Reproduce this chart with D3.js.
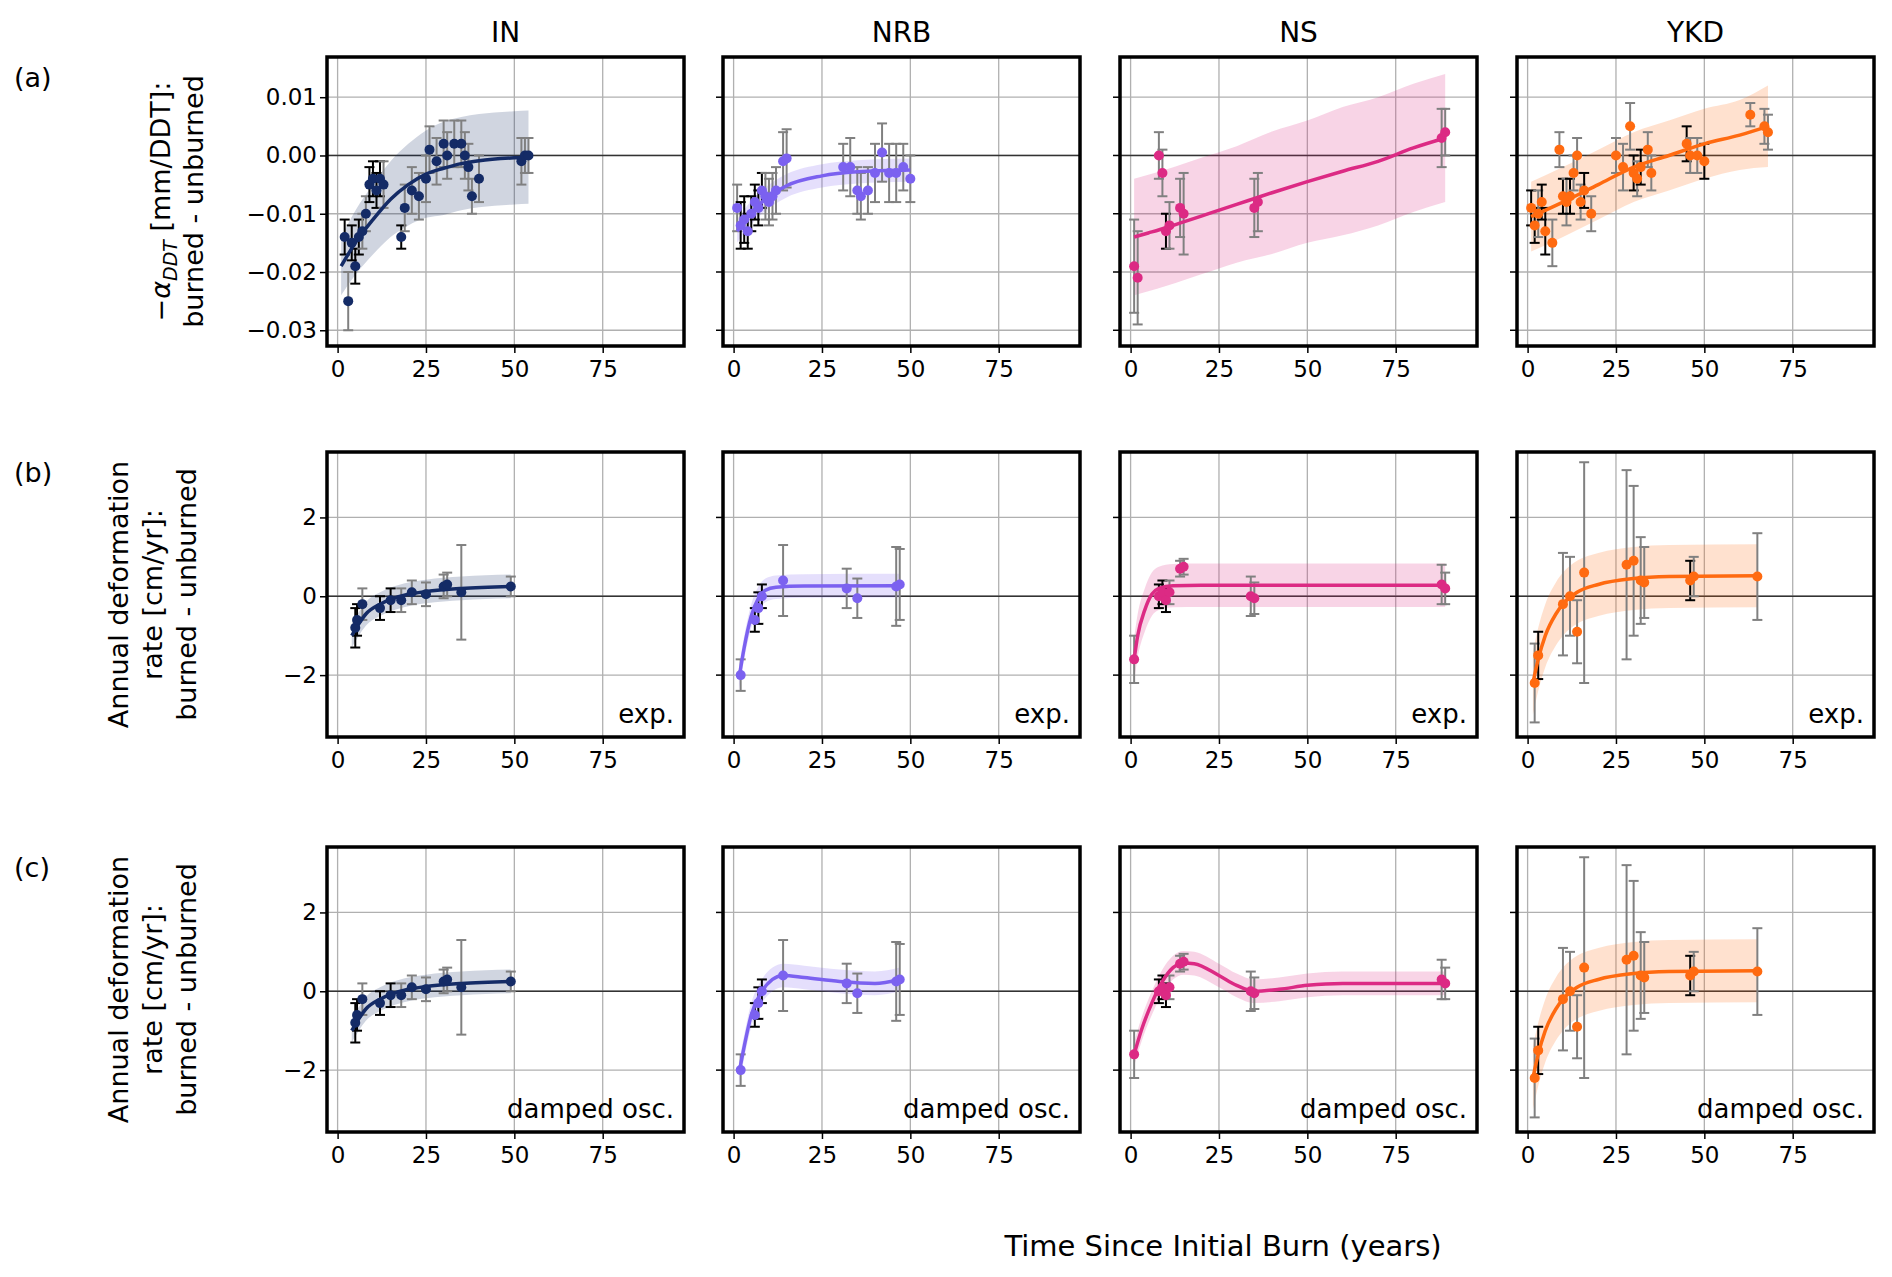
<!DOCTYPE html>
<html><head><meta charset="utf-8">
<script src="https://cdn.jsdelivr.net/npm/d3@7"></script>
<style>body{margin:0;background:#fff}text{font-family:"DejaVu Sans",sans-serif}</style>
</head><body><svg id="c" width="1892" height="1277"></svg>
<script>
const regions=["IN","NRB","NS","YKD"];
const colors=["#142b66","#7b61f0","#dc2a84","#ff6a10"];
const rowLabels=["(a)","(b)","(c)"];
const fitLabels=["","exp.","damped osc."];
const xTicks=[0,25,50,75];
const yTicksA=[0.01,0,-0.01,-0.02,-0.03];
const yTicksB=[2,0,-2];
// points: [t, y, err, black?]
const ptsA=[
[[2,-0.014,0.003,1],[3,-0.025,0.005,0],[4,-0.015,0.003,1],[5,-0.019,0.003,1],[6,-0.014,0.003,1],[7,-0.013,0.003,0],[8,-0.010,0.003,0],[9,-0.005,0.003,1],[10,-0.004,0.003,1],[11,-0.006,0.003,1],[12,-0.004,0.003,1],[13,-0.005,0.004,0],[18,-0.014,0.002,1],[19,-0.009,0.004,0],[21,-0.006,0.004,0],[23,-0.007,0.004,0],[25,-0.004,0.004,0],[26,0.001,0.004,0],[28,-0.001,0.004,0],[30,0.002,0.004,0],[31,0.0,0.004,0],[33,0.002,0.004,0],[35,0.002,0.004,0],[36,0.0,0.004,0],[37,-0.002,0.004,0],[38,-0.007,0.003,0],[40,-0.004,0.004,0],[52,-0.001,0.004,0],[53,0.0,0.003,0],[54,0.0,0.003,0]],
[[1,-0.009,0.004,0],[2,-0.012,0.004,1],[3,-0.011,0.004,1],[4,-0.013,0.003,1],[5,-0.010,0.003,1],[6,-0.008,0.003,1],[7,-0.009,0.003,1],[8,-0.006,0.003,1],[9,-0.007,0.004,0],[10,-0.008,0.004,0],[11,-0.007,0.004,0],[12,-0.006,0.004,0],[14,-0.001,0.005,0],[15,-0.0005,0.005,0],[31,-0.002,0.004,0],[33,-0.002,0.005,0],[35,-0.006,0.004,0],[36,-0.007,0.004,0],[38,-0.006,0.004,0],[40,-0.003,0.005,0],[42,0.0005,0.005,0],[44,-0.003,0.005,0],[46,-0.003,0.005,0],[48,-0.002,0.004,0],[50,-0.004,0.004,0]],
[[1,-0.019,0.008,0],[2,-0.021,0.008,0],[8,0.0,0.004,0],[9,-0.003,0.004,0],[10,-0.013,0.003,1],[11,-0.012,0.004,0],[14,-0.009,0.005,0],[15,-0.010,0.007,0],[35,-0.009,0.005,0],[36,-0.008,0.005,0],[88,0.003,0.005,0],[89,0.004,0.004,0]],
[[1,-0.009,0.003,1],[2,-0.012,0.003,1],[3,-0.010,0.004,0],[4,-0.008,0.003,1],[5,-0.013,0.004,1],[7,-0.015,0.004,0],[9,0.001,0.003,0],[10,-0.007,0.003,1],[11,-0.008,0.004,0],[12,-0.007,0.003,1],[13,-0.003,0.003,0],[14,0.0,0.003,0],[15,-0.008,0.003,0],[16,-0.006,0.003,1],[18,-0.010,0.003,0],[25,0.0,0.003,0],[27,-0.002,0.004,0],[29,0.005,0.004,0],[30,-0.003,0.003,1],[31,-0.004,0.003,0],[32,-0.002,0.003,1],[34,0.001,0.003,0],[35,-0.003,0.003,0],[45,0.002,0.003,1],[46,0.0,0.003,0],[48,0.0,0.003,0],[50,-0.001,0.003,1],[63,0.007,0.002,0],[67,0.005,0.003,0],[68,0.004,0.003,0]]
];
const fitA=[
[[1,-0.019],[5,-0.015],[10,-0.011],[15,-0.0075],[20,-0.005],[25,-0.0032],[30,-0.0022],[35,-0.0014],[40,-0.0009],[50,-0.0004],[54,-0.0003]],
[[1,-0.013],[4,-0.0105],[8,-0.008],[15,-0.0052],[25,-0.0035],[35,-0.0028],[50,-0.0025]],
[[1,-0.014],[5,-0.0133],[10,-0.0124],[15,-0.0114],[20,-0.0104],[30,-0.0084],[40,-0.0064],[50,-0.0045],[60,-0.0027],[70,-0.001],[80,0.0013],[89,0.003]],
[[1,-0.0105],[10,-0.008],[20,-0.005],[30,-0.002],[40,0.0],[50,0.002],[60,0.0035],[68,0.005]]
];
const bandA=[[0.005,0.0055,0.006,0.0065,0.007,0.0075,0.008,0.008,0.008,0.008,0.008],[0.002,0.002,0.002,0.002,0.002,0.002,0.002],[0.010,0.010,0.010,0.010,0.010,0.010,0.0105,0.0105,0.011,0.011,0.011,0.011],[0.006,0.006,0.006,0.006,0.006,0.006,0.006,0.007]];
const ptsB=[
[[5,-0.8,0.5,1],[5.5,-0.6,0.4,1],[7,-0.2,0.4,0],[12,-0.3,0.3,1],[15,-0.1,0.3,1],[18,-0.1,0.3,0],[21,0.1,0.3,0],[25,0.05,0.3,0],[30,0.25,0.3,0],[31,0.3,0.3,0],[35,0.1,1.2,0],[49,0.25,0.25,0]],
[[2,-2.0,0.4,0],[6,-0.6,0.3,1],[7,-0.3,0.4,1],[8,0.0,0.3,1],[14,0.4,0.9,0],[32,0.2,0.5,0],[35,-0.05,0.5,0],[46,0.25,1.0,0],[47,0.3,0.9,0]],
[[1,-1.6,0.6,0],[8,0.0,0.3,1],[9,0.1,0.3,1],[10,-0.1,0.3,1],[11,0.1,0.3,0],[14,0.7,0.2,0],[15,0.75,0.2,0],[34,0.0,0.5,0],[35,-0.05,0.4,0],[88,0.3,0.5,0],[89,0.2,0.4,0]],
[[2,-2.2,1.0,0],[3,-1.5,0.6,1],[10,-0.2,1.3,0],[12,0.0,1.0,0],[14,-0.9,0.8,0],[16,0.6,2.8,0],[28,0.8,2.4,0],[30,0.9,1.9,0],[32,0.4,1.1,0],[33,0.35,0.9,0],[46,0.4,0.5,1],[47,0.5,0.5,0],[65,0.5,1.1,0]]
];
const fitB=[
[[4,-1.0],[6,-0.7],[8,-0.45],[12,-0.2],[15,-0.08],[20,0.05],[25,0.12],[35,0.2],[49,0.25]],
[[1.5,-2.1],[3,-1.3],[5,-0.5],[7,-0.05],[9,0.15],[12,0.23],[20,0.26],[47,0.27]],
[[1,-1.6],[2,-1.0],[4,-0.35],[6,0.05],[8,0.2],[12,0.27],[20,0.28],[89,0.28]],
[[1.5,-2.2],[3,-1.6],[5,-1.0],[8,-0.45],[10,-0.2],[14,0.1],[20,0.3],[30,0.45],[40,0.5],[65,0.52]]
];
const bandB=[0.3,0.3,0.55,0.8];
const fitC=[
fitB[0],
[[1.5,-2.1],[3,-1.4],[5,-0.6],[8,0.0],[11,0.3],[14,0.4],[20,0.35],[30,0.25],[40,0.2],[47,0.3]],
[[1,-1.6],[3,-1.0],[6,-0.3],[9,0.25],[12,0.6],[15,0.72],[18,0.7],[25,0.4],[30,0.15],[35,0.0],[42,0.05],[50,0.15],[60,0.2],[89,0.2]],
fitB[3]
];
const bandC=[0.3,0.3,0.3,0.8];

const svg=d3.select("#c");
const colX=[327,723,1120,1517], W=357;
const rowY=[57,452,847], H=[289,285,285];
const x=d3.scaleLinear().domain([-3,98]);
svg.append("text").attr("x",1223).attr("y",1256).attr("text-anchor","middle").attr("font-size",29).text("Time Since Initial Burn (years)");
const ylabs=[["\u2212\u03b1","burned - unburned"],["Annual deformation","rate [cm/yr]:","burned - unburned"],["Annual deformation","rate [cm/yr]:","burned - unburned"]];
for(let r=0;r<3;r++){
  svg.append("text").attr("x",14).attr("y",rowY[r]+30).attr("font-size",27).text(rowLabels[r]);
  const cy=rowY[r]+H[r]/2;
  const g=svg.append("g").attr("transform",`translate(0,${cy}) rotate(-90)`).attr("font-size",27).attr("text-anchor","middle");
  if(r==0){
    const t=g.append("text").attr("y",170);
    t.append("tspan").text("\u2212");t.append("tspan").attr("font-style","italic").text("\u03b1");
    t.append("tspan").attr("font-size",19).attr("font-style","italic").attr("dy",7).text("DDT");
    t.append("tspan").attr("dy",-7).text(" [mm/DDT]:");
    g.append("text").attr("y",203).text("burned - unburned");
  } else {
    ylabs[r].forEach((s,i)=>g.append("text").attr("y",128+i*34).text(s));
  }
  for(let c=0;c<4;c++){
    const X=colX[c], Y=rowY[r], h=H[r];
    const xs=x.copy().range([X,X+W]);
    const ys=d3.scaleLinear().domain(r==0?[-0.0327,0.0169]:[-3.57,3.66]).range([Y+h,Y]);
    const yt=r==0?yTicksA:yTicksB;
    const p=svg.append("g");
    p.append("defs").append("clipPath").attr("id",`cl${r}${c}`).append("rect").attr("x",X).attr("y",Y).attr("width",W).attr("height",h);
    xTicks.forEach(v=>p.append("line").attr("x1",xs(v)).attr("x2",xs(v)).attr("y1",Y).attr("y2",Y+h).attr("stroke","#b0b0b0").attr("stroke-width",1.3));
    yt.forEach(v=>p.append("line").attr("x1",X).attr("x2",X+W).attr("y1",ys(v)).attr("y2",ys(v)).attr("stroke","#b0b0b0").attr("stroke-width",1.3));
    p.append("line").attr("x1",X).attr("x2",X+W).attr("y1",ys(0)).attr("y2",ys(0)).attr("stroke","#333").attr("stroke-width",1.6);
    const col=colors[c];
    const fit=r==0?fitA[c]:(r==1?fitB[c]:fitC[c]);
    const bw=r==0?bandA[c]:null;
    const hw=i=>r==0?bw[i]:(r==1?bandB[c]:bandC[c]);
    const cg=p.append("g").attr("clip-path",`url(#cl${r}${c})`);
    cg.append("path").datum(fit.map((d,i)=>[d[0],d[1]-hw(i),d[1]+hw(i)]))
      .attr("d",d3.area().x(d=>xs(d[0])).y0(d=>ys(d[1])).y1(d=>ys(d[2])).curve(d3.curveMonotoneX))
      .attr("fill",col).attr("opacity",0.2);
    const pts=r==0?ptsA[c]:ptsB[c];
    pts.forEach(d=>{
      const ec=d[3]?"#000":"#808080";
      cg.append("line").attr("x1",xs(d[0])).attr("x2",xs(d[0])).attr("y1",ys(d[1]-d[2])).attr("y2",ys(d[1]+d[2])).attr("stroke",ec).attr("stroke-width",2);
      [d[1]-d[2],d[1]+d[2]].forEach(v=>cg.append("line").attr("x1",xs(d[0])-5).attr("x2",xs(d[0])+5).attr("y1",ys(v)).attr("y2",ys(v)).attr("stroke",ec).attr("stroke-width",2));
    });
    cg.append("path").datum(fit).attr("d",d3.line().x(d=>xs(d[0])).y(d=>ys(d[1])).curve(d3.curveMonotoneX)).attr("fill","none").attr("stroke",col).attr("stroke-width",3.5);
    pts.forEach(d=>cg.append("circle").attr("cx",xs(d[0])).attr("cy",ys(d[1])).attr("r",5).attr("fill",col));
    p.append("rect").attr("x",X).attr("y",Y).attr("width",W).attr("height",h).attr("fill","none").attr("stroke","#000").attr("stroke-width",3.5);
    const ax=p.append("g").attr("transform",`translate(0,${Y+h})`).call(d3.axisBottom(xs).tickValues(xTicks).tickSize(7).tickSizeOuter(0));
    ax.select(".domain").remove();ax.selectAll("text").attr("font-size",23).attr("dy","0.9em").attr("font-family","DejaVu Sans");
    ax.selectAll("line").attr("stroke-width",1.5);
    if(c==0){
      const ay=p.append("g").attr("transform",`translate(${X},0)`).call(d3.axisLeft(ys).tickValues(yt).tickSize(7).tickFormat(r==0?d3.format(".2f"):d3.format("d")));
      ay.select(".domain").remove();ay.selectAll("text").attr("font-size",23).attr("font-family","DejaVu Sans").text(function(){return this.textContent.replace("-","\u2212");});
      ay.selectAll("line").attr("stroke-width",1.5);
    } else {
      yt.forEach(v=>p.append("line").attr("x1",X-7).attr("x2",X).attr("y1",ys(v)).attr("y2",ys(v)).attr("stroke","#000").attr("stroke-width",1.5));
    }
    if(r==0) svg.append("text").attr("x",X+W/2).attr("y",42).attr("text-anchor","middle").attr("font-size",28).text(regions[c]);
    if(r>0) p.append("text").attr("x",X+W-10).attr("y",Y+h-14).attr("text-anchor","end").attr("font-size",26).text(fitLabels[r]);
  }
}
</script></body></html>
